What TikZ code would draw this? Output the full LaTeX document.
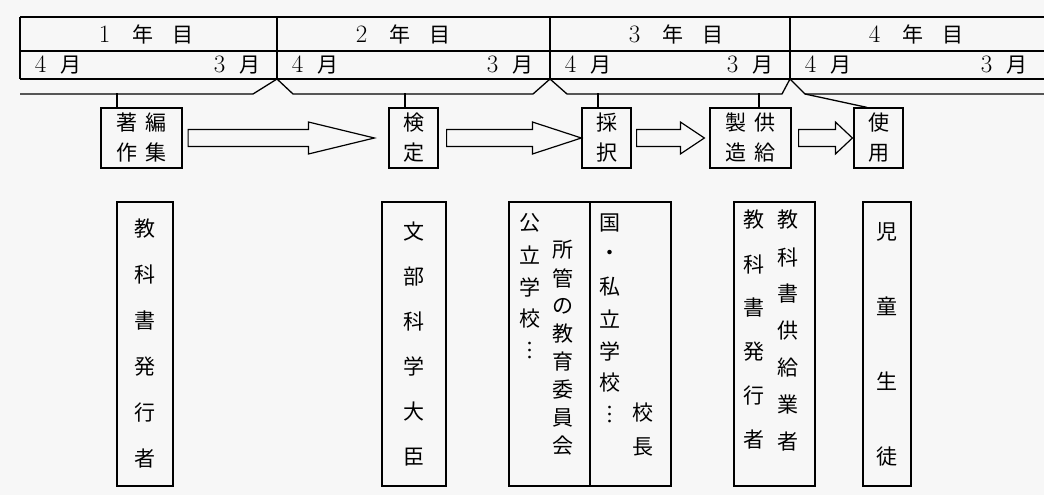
\documentclass[tikz,border=0pt]{standalone}
\usepackage{fontspec}
\newfontfamily\jp{Noto Sans CJK JP}
\usepackage{tikz}
\usetikzlibrary{calc,positioning}
\definecolor{papier}{HTML}{F7F7F7}

\newcommand\nen[1]{{\normalfont\fontsize{25}{25}\selectfont #1}\hspace{22pt}年\hspace{19pt}目}
\newcommand\tsuki[1]{{\normalfont\fontsize{25}{25}\selectfont #1}\hspace{14pt}月}
%senkrechte Schrift, ein Zeichen pro Knoten
\newcommand\tate[5]{\foreach \z [count=\i] in {#5}
  \node[zeichen] (#4\i) at (#1,#2+#3*\i-#3) {\z};}
\newcommand\hohlpfeil[5]{\draw[pfeil] let \p1=(#1.east), \p2=(#2.west) in
  (\x1+#3pt,\y1+8.5pt) -- (\x2-#4pt-#5pt,\y1+8.5pt) -- (\x2-#4pt-#5pt,\y1+16pt)
  -- (\x2-#4pt,\y1) -- (\x2-#4pt-#5pt,\y1-16pt) -- (\x2-#4pt-#5pt,\y1-8.5pt)
  -- (\x1+#3pt,\y1-8.5pt) -- cycle;}

\begin{document}
\begin{tikzpicture}[x=1pt,y=-1pt,
  linie/.style={line width=1.3pt},
  zeichen/.style={inner sep=0pt,font=\jp\fontsize{21}{21}\selectfont},
  kasten/.style={draw,line width=1.2pt,inner sep=0pt,align=center},
  oben/.style={kasten,minimum height=60pt,font=\jp\fontsize{21}{30}\selectfont},
  unten/.style={kasten,minimum height=284pt},
  pfeil/.style={line width=1.2pt,line join=miter}]
\useasboundingbox (0,0) rectangle (1044,495);
\fill[papier] (0,0) rectangle (1044,495);
%Kopfzeile mit den Schuljahren
\draw[linie] (20,17) -- (1044,17) (20,51) -- (1044,51) (20,79) -- (1044,79) (20,17) -- (20,79);
\foreach \x in {277,550,790}{
\draw[linie] (\x,17) -- (\x,79);
}
\foreach \links/\rechts/\nr in {20/277/1,277/550/2,550/790/3,790/1044/4}{
\node[zeichen] (jahr\nr) at (\links+126,34) {\nen{\nr}};
\node[zeichen] (april\nr) at (\links+38,65) {\tsuki{4}};
\node[zeichen] (maerz\nr) at (\rechts-40,65) {\tsuki{3}};
}
\draw[linie] (20,94) -- (253,94) -- (277,79) -- (293,94) -- (533,94) -- (550,79) -- (567,94)
  -- (782,94) -- (790,79) -- (805,94) -- (1044,94);
%Ablauf
\node[oben,minimum width=81pt] (chosaku) at (141.5,138) {著\hspace{9pt}編\\作\hspace{9pt}集};
\node[oben,minimum width=49pt] (kentei) at (413.5,138) {検\\定};
\node[oben,minimum width=49pt] (saitaku) at (606.5,138) {採\\択};
\node[oben,minimum width=81pt] (seizou) at (750.5,138) {製\hspace{9pt}供\\造\hspace{9pt}給};
\node[oben,minimum width=49pt] (shiyou) at (878.5,138) {使\\用};
\draw[linie] ([xshift=-24.5]chosaku.north) -- ++(0,-14);
\draw[linie] ([xshift=-8.5]kentei.north) -- ++(0,-14);
\draw[linie] ([xshift=-8.5]saitaku.north) -- ++(0,-14);
\draw[linie] ([xshift=8.5]seizou.north) -- ++(0,-14);
\draw[linie] (805,94) -- ([xshift=-11.5]shiyou.north);
\hohlpfeil{chosaku}{kentei}{5.5}{14}{66}
\hohlpfeil{kentei}{saitaku}{8}{0}{49}
\hohlpfeil{saitaku}{seizou}{5}{5}{24}
\hohlpfeil{seizou}{shiyou}{7}{1}{17}
%Zustaendige
\node[unten,minimum width=56pt,font=\jp\fontsize{21}{46}\selectfont] (hakkousha) at (145,344) {教\\科\\書\\発\\行\\者};
\node[unten,minimum width=64pt,font=\jp\fontsize{21}{45}\selectfont] (monbu) at (414,344) {文\\部\\科\\学\\大\\臣};
\node[unten,minimum width=81pt] (kouritsu) at (549.5,344) {};
\node[unten,minimum width=81pt] (shiritsu) at (630.5,344) {};
\node[unten,minimum width=81pt] (kyoukyuu) at (774.5,344) {};
\node[unten,minimum width=48pt,font=\jp\fontsize{21}{75}\selectfont] (jidou) at (887,344) {児\\童\\生\\徒};
\tate{530}{223}{32}{kouritsuA}{公,立,学,校,︙}
\tate{563}{250}{28}{kouritsuB}{所,管,の,教,育,委,員,会}
\tate{610}{223}{32}{shiritsuA}{国,・,私,立,学,校,︙}
\tate{643}{413}{34}{shiritsuB}{校,長}
\tate{754}{220}{44}{kyoukyuuA}{教,科,書,発,行,者}
\tate{788}{220}{37}{kyoukyuuB}{教,科,書,供,給,業,者}
\end{tikzpicture}
\end{document}
